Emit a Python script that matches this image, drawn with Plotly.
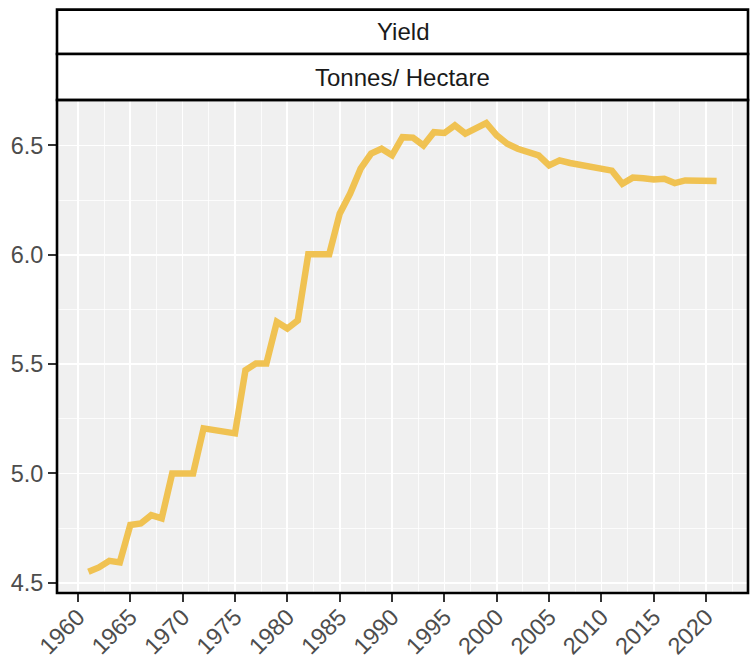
import plotly.graph_objects as go

years = list(range(1961, 2022))
yield_t_ha = [
    4.55, 4.57, 4.60, 4.593, 4.764, 4.771, 4.809, 4.794, 5.00, 5.00,
    5.00, 5.206, 5.199, 5.193, 5.183, 5.472, 5.503, 5.503, 5.693, 5.663,
    5.70, 6.002, 6.002, 6.002, 6.188, 6.28, 6.394, 6.463, 6.485, 6.455,
    6.538, 6.536, 6.50, 6.561, 6.557, 6.592, 6.554, 6.577, 6.602, 6.546,
    6.508, 6.485, 6.47, 6.455, 6.409, 6.432, 6.42, 6.41, 6.40, 6.392,
    6.385, 6.325, 6.353, 6.350, 6.344, 6.348, 6.328, 6.34, 6.34, 6.339,
    6.337,
]
x_ticks = list(range(1960, 2021, 5))
x_tick_labels = [str(v) for v in x_ticks]
y_ticks = [4.5, 5.0, 5.5, 6.0, 6.5]
y_tick_labels = ["4.5", "5.0", "5.5", "6.0", "6.5"]
strip_titles = ["Yield", "Tonnes/ Hectare"]

FONT = "Liberation Sans, Arial, Helvetica, sans-serif"
W, H = 755, 660
L, R, T, B = 57, 6.5, 99.5, 67
plot_h = H - T - B

def py(pix):
    return (H - B - pix) / plot_h

fig = go.Figure()
fig.add_trace(go.Scatter(
    x=years, y=yield_t_ha, mode="lines",
    line=dict(color="rgb(240,194,82)", width=6.5),
    showlegend=False, hoverinfo="skip",
))

axis_common = dict(
    showline=False, zeroline=False, automargin=False,
    ticks="outside", ticklen=8, tickwidth=2, tickcolor="#333333",
    tickfont=dict(family=FONT, size=23.5, color="#4D4D4D"),
    showgrid=True, gridcolor="white", gridwidth=1.7,
)
fig.update_xaxes(
    range=[1958, 2024], tickvals=x_ticks, ticktext=x_tick_labels,
    tickangle=-45, ticklabelstandoff=-8,
    minor=dict(dtick=2.5, tick0=1960, showgrid=True, gridcolor="white", gridwidth=0.8, ticks=""),
    **axis_common,
)
fig.update_yaxes(
    range=[4.453, 6.708], tickvals=y_ticks, ticktext=y_tick_labels,
    minor=dict(dtick=0.25, tick0=4.5, showgrid=True, gridcolor="white", gridwidth=0.8, ticks=""),
    **axis_common,
)

shapes = []
strip_bounds = [(9, 53.5), (53.5, 99.5)]
for (top, bot) in strip_bounds:
    shapes.append(dict(type="rect", xref="paper", yref="paper",
                       x0=0, x1=1, y0=py(bot), y1=py(top),
                       fillcolor="white", line=dict(color="black", width=2.6),
                       layer="above"))
shapes.append(dict(type="rect", xref="paper", yref="paper",
                   x0=0, x1=1, y0=0, y1=1,
                   fillcolor="rgba(0,0,0,0)", line=dict(color="black", width=2.6),
                   layer="above"))

annotations = []
for (top, bot), title in zip(strip_bounds, strip_titles):
    annotations.append(dict(
        text=title, xref="paper", yref="paper", x=0.5, y=py((top + bot) / 2),
        showarrow=False, xanchor="center", yanchor="middle",
        font=dict(family=FONT, size=24, color="#1A1A1A"),
    ))

fig.update_layout(
    width=W, height=H,
    margin=dict(l=L, r=R, t=T, b=B, pad=0, autoexpand=False),
    paper_bgcolor="white", plot_bgcolor="#F0F0F0",
    shapes=shapes, annotations=annotations,
    showlegend=False,
)

fig.write_html(
    "out.html",
    config={"displayModeBar": False, "staticPlot": True},
    post_script="document.body.style.margin='0';document.body.style.overflow='hidden';",
)
